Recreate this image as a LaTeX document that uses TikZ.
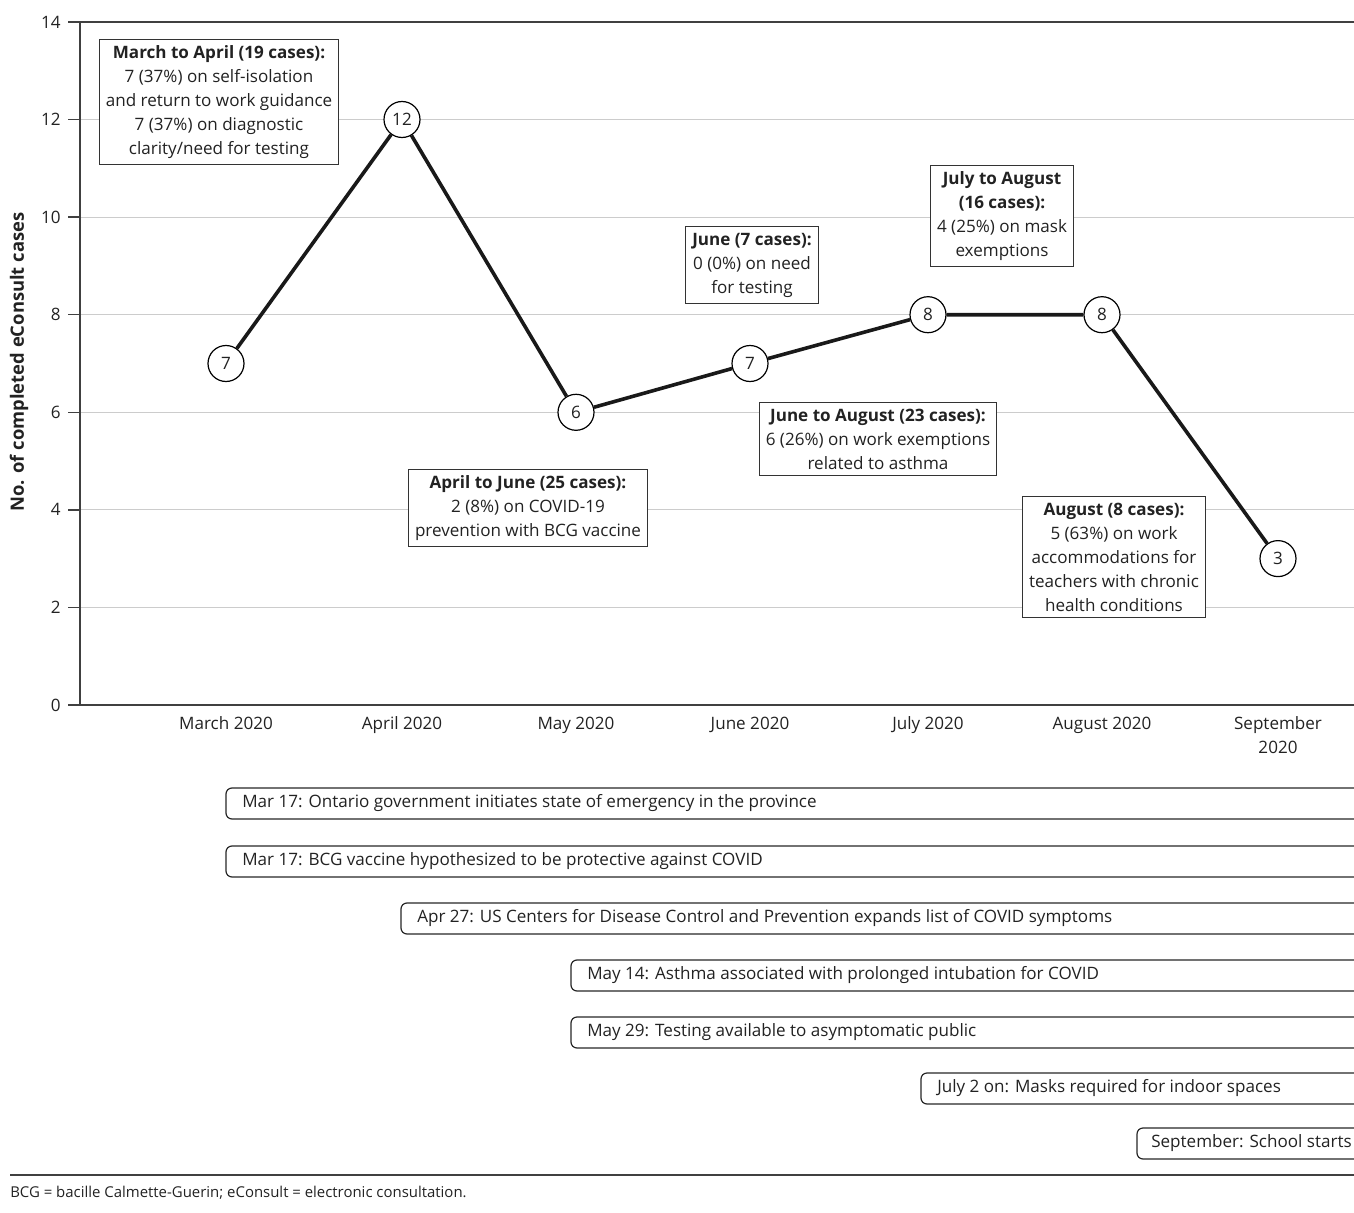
\documentclass[tikz,border=0pt]{standalone}
\usepackage{fontspec}
\setmainfont{Open Sans}
\usepackage{tikz}

\definecolor{ink}{HTML}{222222}

\begin{document}
\begin{tikzpicture}[x=0.75pt,y=-0.75pt,
  font=\fontsize{12.8}{18}\selectfont, text=ink,
  axis/.style={draw=black!75,line width=1.1pt},
  grid/.style={draw=black!20,line width=0.9pt},
  pt/.style={circle,draw=black,line width=0.9pt,fill=white,minimum size=27pt,inner sep=0pt},
  trend/.style={line width=2.7pt,black!90},
  note/.style={draw=black!80,line width=0.8pt,fill=white,align=center,inner xsep=5pt,inner ysep=4.5pt},
  bar/.style={draw=black!85,line width=0.9pt,rounded corners=4.5pt},
  bartext/.style={anchor=west,inner sep=0pt},
  month/.style={align=center,anchor=base}]
\useasboundingbox (0,0) rectangle (1354,1213);

% grid and axes
\foreach \v in {2,4,...,12}
  \draw[grid] (80,{705-48.79*\v}) -- (1354,{705-48.79*\v});
\foreach \v in {0,2,...,14} {
  \draw[axis] (68,{705-48.79*\v}) -- (80,{705-48.79*\v});
  \node[anchor=east,inner sep=0pt] (tk\v) at (61,{705-48.79*\v}) {\v};
}
\draw[axis] (68,22) -- (1354,22);
\draw[axis] (68,705) -- (1354,705);
\draw[axis] (80,22) -- (80,705);
\node[rotate=90,font=\fontsize{13.8}{15}\selectfont\bfseries] (ylab) at (19,362) {No. of completed eConsult cases};

% months
\node[month] (m1) at (226,729) {March 2020};
\node[month] (m2) at (402,729) {April 2020};
\node[month] (m3) at (576,729) {May 2020};
\node[month] (m4) at (750,729) {June 2020};
\node[month] (m5) at (928,729) {July 2020};
\node[month] (m6) at (1102,729) {August 2020};
\node[month] (m7) at (1278,753) {September\\2020};

% notes
\node[note] (n1) at (219,102) {\textbf{March to April (19 cases):}\\7 (37\%) on self-isolation\\and return to work guidance\\7 (37\%) on diagnostic\\clarity/need for testing};
\node[note] (n2) at (752,265) {\textbf{June (7 cases):}\\0 (0\%) on need\\for testing};
\node[note] (n3) at (1002,216) {\textbf{July to August}\\\textbf{(16 cases):}\\4 (25\%) on mask\\exemptions};
\node[note] (n4) at (878,439) {\textbf{June to August (23 cases):}\\6 (26\%) on work exemptions\\related to asthma};
\node[note] (n5) at (528,508) {\textbf{April to June (25 cases):}\\2 (8\%) on COVID-19\\prevention with BCG vaccine};
\node[note] (n6) at (1114,557) {\textbf{August (8 cases):}\\5 (63\%) on work\\accommodations for\\teachers with chronic\\health conditions};

% data
\node[pt] (p1) at (226,363.5) {7};
\node[pt] (p2) at (402,119.5) {12};
\node[pt] (p3) at (576,412.3) {6};
\node[pt] (p4) at (750,363.5) {7};
\node[pt] (p5) at (928,314.7) {8};
\node[pt] (p6) at (1102,314.7) {8};
\node[pt] (p7) at (1278,558.6) {3};
\draw[trend] (p1) -- (p2) -- (p3) -- (p4) -- (p5) -- (p6) -- (p7);

% timeline
\draw[bar] (1354,788) -- (226,788) -- (226,819) -- (1354,819);
\node[bartext] (e1) at (242,803.5) {Mar 17: Ontario government initiates state of emergency in the province};
\draw[bar] (1354,846) -- (226,846) -- (226,877) -- (1354,877);
\node[bartext] (e2) at (242,861.5) {Mar 17: BCG vaccine hypothesized to be protective against COVID};
\draw[bar] (1354,903) -- (401,903) -- (401,934) -- (1354,934);
\node[bartext] (e3) at (417,918.5) {Apr 27: US Centers for Disease Control and Prevention expands list of COVID symptoms};
\draw[bar] (1354,960) -- (571,960) -- (571,991) -- (1354,991);
\node[bartext] (e4) at (587,975.5) {May 14: Asthma associated with prolonged intubation for COVID};
\draw[bar] (1354,1017) -- (571,1017) -- (571,1048) -- (1354,1048);
\node[bartext] (e5) at (587,1032.5) {May 29: Testing available to asymptomatic public};
\draw[bar] (1354,1073) -- (921,1073) -- (921,1104) -- (1354,1104);
\node[bartext] (e6) at (937,1088.5) {July 2 on: Masks required for indoor spaces};
\draw[bar] (1354,1128) -- (1137,1128) -- (1137,1159) -- (1354,1159);
\node[bartext] (e7) at (1151,1143.5) {September: School starts};

% footnote
\draw[axis] (10,1175) -- (1354,1175);
\node[anchor=west,inner sep=0pt,font=\fontsize{11.2}{13}\selectfont] (foot) at (10,1193) {BCG = bacille Calmette-Guerin; eConsult = electronic consultation.};
\end{tikzpicture}
\end{document}
